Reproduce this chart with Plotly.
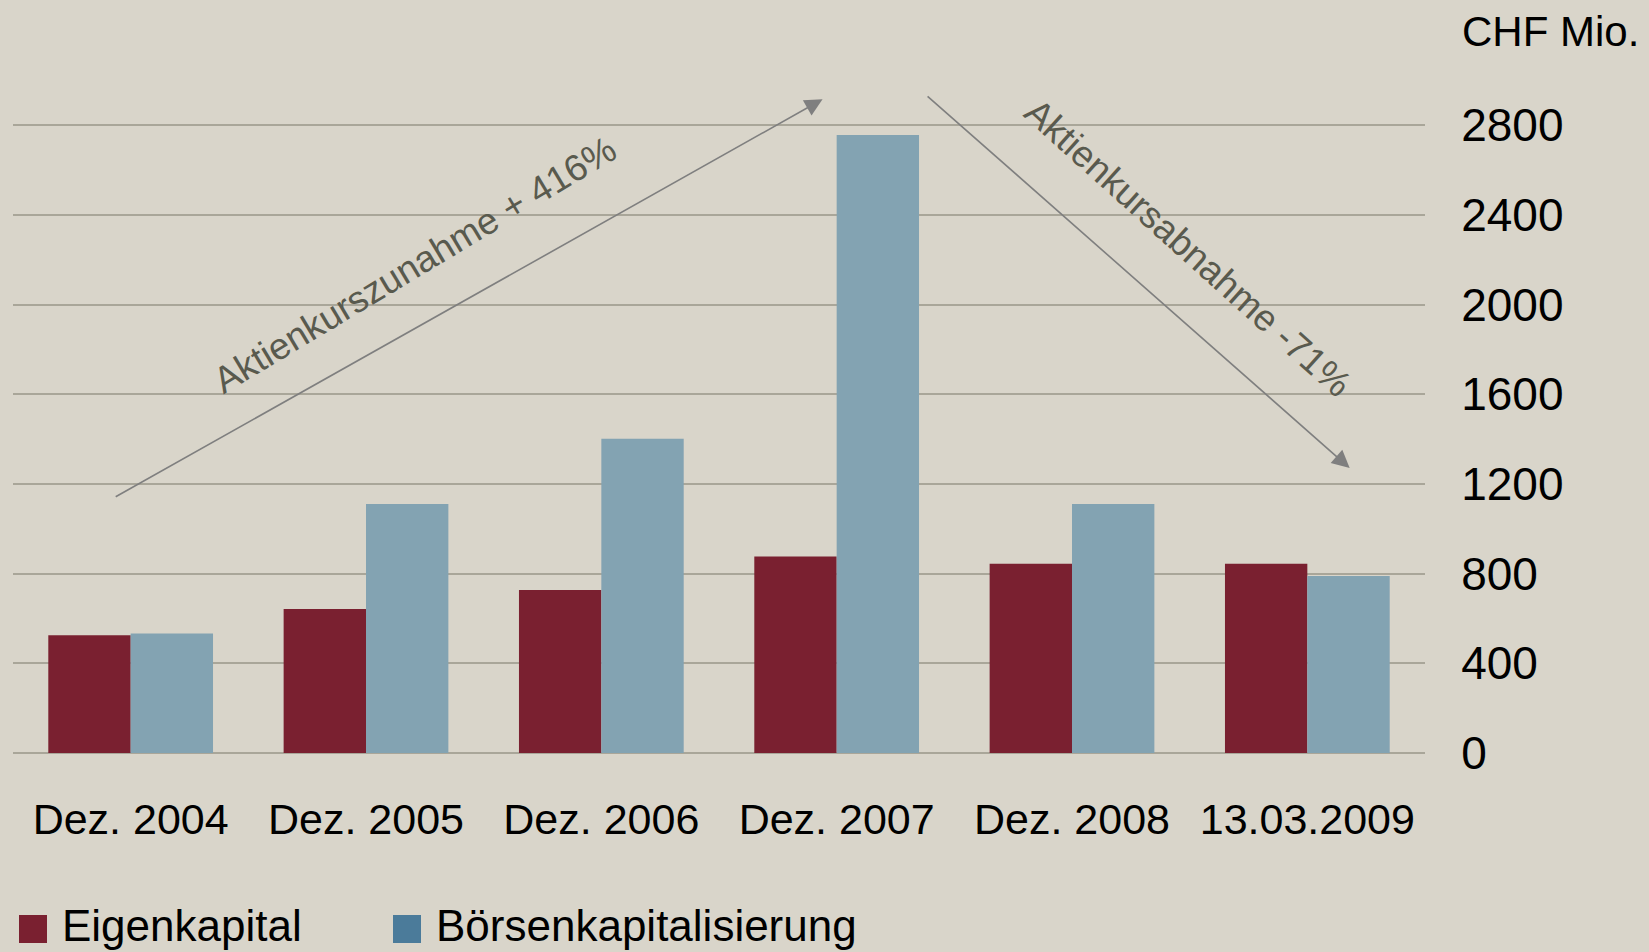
import plotly.graph_objects as go

categories = ["Dez. 2004", "Dez. 2005", "Dez. 2006", "Dez. 2007", "Dez. 2008", "13.03.2009"]
eigenkapital = [525, 642, 727, 877, 844, 844]
boersenkap = [533, 1111, 1402, 2757, 1111, 790]
y_ticks = [0, 400, 800, 1200, 1600, 2000, 2400, 2800]

series_names = ["Eigenkapital", "Börsenkapitalisierung"]
bar_colors = ["#7A2030", "#83A3B2"]
legend_colors = ["#7A2030", "#4B7B9A"]

# arrow annotations: (tail_x, tail_y, head_x, head_y) in category index / data units
arrows = [(-0.07, 1139, 2.94, 2916), (3.38, 2935, 5.18, 1271)]
arrow_texts = ["Aktienkurszunahme + 416%", "Aktienkursabnahme -71%"]
arrow_text_pos = [(1.21, 2178, -31), (4.495, 2250, 42)]

BG = "#D9D5CA"
FONT = "Liberation Sans, Arial, sans-serif"

fig = go.Figure()
fig.add_trace(go.Bar(x=categories, y=eigenkapital, name=series_names[0],
                     marker=dict(color=bar_colors[0], line=dict(width=0)), showlegend=False))
fig.add_trace(go.Bar(x=categories, y=boersenkap, name=series_names[1],
                     marker=dict(color=bar_colors[1], line=dict(width=0)), showlegend=False))

annotations = []
shapes = []
for (tx, ty, hx, hy) in arrows:
    annotations.append(dict(x=hx, y=hy, ax=tx, ay=ty, xref="x", yref="y", axref="x", ayref="y",
                            text="", showarrow=True, arrowhead=2, arrowsize=2.2, arrowwidth=1.6,
                            arrowcolor="#7F7F7F", standoff=0, startstandoff=0))
for txt, (px, py, ang) in zip(arrow_texts, arrow_text_pos):
    annotations.append(dict(x=px, y=py, xref="x", yref="y", text=txt, showarrow=False,
                            textangle=ang, xanchor="center", yanchor="middle",
                            font=dict(family=FONT, size=37, color="#595A4E")))

annotations.append(dict(x=1.0248, y=1.0384, xref="paper", yref="paper", text="CHF Mio.",
                        showarrow=False, xanchor="left", yanchor="middle",
                        font=dict(family=FONT, size=42, color="#000000")))

# manual legend (large square swatches)
legend_x = [19, 393]
for name, col, lx in zip(series_names, legend_colors, legend_x):
    shapes.append(dict(type="rect", xref="paper", yref="paper",
                       x0=(lx - 13) / 1412, x1=(lx + 28 - 13) / 1412,
                       y0=(753 - 943) / 695, y1=(753 - 915) / 695,
                       fillcolor=col, line=dict(width=0)))
    annotations.append(dict(x=(lx + 41 - 13) / 1412, y=(753 - 925) / 695, xref="paper", yref="paper",
                            text=name, showarrow=False, xanchor="left", yanchor="middle",
                            font=dict(family=FONT, size=44, color="#000000")))

fig.update_layout(
    width=1649, height=952, autosize=False,
    paper_bgcolor=BG, plot_bgcolor=BG,
    margin=dict(l=13, r=224, t=58, b=199),
    barmode="group", bargap=0.3, bargroupgap=0,
    showlegend=False,
    font=dict(family=FONT, size=42, color="#000000"),
    annotations=annotations, shapes=shapes,
    xaxis=dict(type="category", showgrid=False, showline=False, zeroline=False,
               ticks="outside", ticklen=28, tickcolor=BG,
               tickfont=dict(family=FONT, size=43, color="#000000")),
    yaxis=dict(side="right", range=[0, 3100], tickvals=y_ticks, ticktext=[str(v) for v in y_ticks],
               showgrid=True, gridcolor="#A9A699", gridwidth=1.5, zeroline=True,
               zerolinecolor="#A9A699", zerolinewidth=1.5, showline=False,
               ticks="outside", ticklen=26, tickcolor=BG,
               tickfont=dict(family=FONT, size=46, color="#000000")),
)

fig.write_html("out.html", config={"displayModeBar": False},
               post_script="document.body.style.margin='0';document.body.style.overflow='hidden';")
